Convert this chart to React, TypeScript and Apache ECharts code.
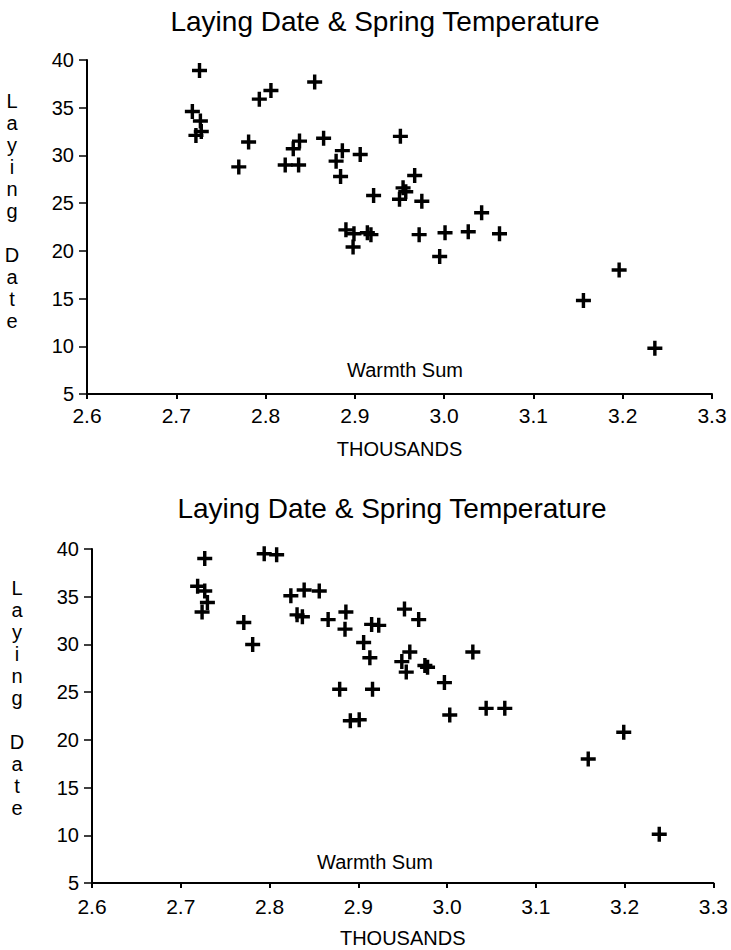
import React, { useEffect, useRef } from "react";
import * as echarts from "echarts";

// Top chart data (warmth sum in thousands, laying date)
const topWarmth = [
  2.726, 2.793, 2.806, 2.855, 2.718, 2.727, 2.722, 2.728, 2.781, 2.770,
  2.838, 2.831, 2.822, 2.837, 2.865, 2.886, 2.879, 2.884, 2.906, 2.951,
  2.967, 2.921, 2.950, 2.954, 2.957, 2.975, 2.890, 2.899, 2.898, 2.914,
  2.918, 2.972, 3.001, 3.027, 3.042, 3.062, 2.995, 3.196, 3.156, 3.236,
];
const topLaying = [
  38.9, 35.9, 36.8, 37.7, 34.6, 33.6, 32.1, 32.5, 31.4, 28.8,
  31.5, 30.7, 29.0, 29.0, 31.8, 30.5, 29.4, 27.8, 30.1, 32.0,
  27.9, 25.8, 25.4, 26.6, 26.2, 25.2, 22.2, 21.8, 20.4, 21.9,
  21.7, 21.7, 21.9, 22.0, 24.0, 21.8, 19.4, 18.0, 14.8, 9.8,
];

// Bottom chart data
const bottomWarmth = [
  2.727, 2.794, 2.808, 2.719, 2.727, 2.730, 2.724, 2.771, 2.781, 2.824,
  2.839, 2.856, 2.831, 2.837, 2.866, 2.886, 2.885, 2.915, 2.923, 2.906,
  2.913, 2.879, 2.916, 2.952, 2.968, 2.958, 2.949, 2.954, 2.975, 2.978,
  2.891, 2.901, 3.029, 2.997, 3.003, 3.044, 3.065, 3.199, 3.159, 3.239,
];
const bottomLaying = [
  39.0, 39.5, 39.4, 36.1, 35.6, 34.4, 33.4, 32.3, 30.0, 35.1,
  35.7, 35.6, 33.1, 32.9, 32.6, 33.4, 31.6, 32.1, 32.0, 30.2,
  28.6, 25.3, 25.3, 33.7, 32.6, 29.2, 28.2, 27.1, 27.8, 27.6,
  22.0, 22.1, 29.2, 26.0, 22.6, 23.3, 23.3, 20.8, 18.0, 10.1,
];

const titleText = "Laying Date & Spring Temperature";
const xName = "THOUSANDS";
const innerLabel = "Warmth Sum";
const yLetters = ["L", "a", "y", "i", "n", "g", "", "D", "a", "t", "e"];

const FONT = "'Liberation Sans', Arial, Helvetica, sans-serif";
const PLUS = "path://M5.4,0h3.2v5.4h5.4v3.2h-5.4v5.4h-3.2v-5.4h-5.4v-3.2h5.4z";

function pairs(xs: number[], ys: number[]) {
  return xs.map((x, i) => [x, ys[i]]);
}

function xAxisCfg(gridIndex: number, labelMargin: number) {
  return {
    type: "value",
    gridIndex,
    min: 2.6,
    max: 3.3,
    interval: 0.1,
    name: xName,
    nameLocation: "middle",
    nameGap: 45,
    nameTextStyle: { color: "#000", fontSize: 20, fontFamily: FONT },
    axisLine: { show: true, onZero: false, lineStyle: { color: "#000", width: 2 } },
    axisTick: { show: true, inside: false, length: 5, lineStyle: { color: "#000", width: 2 } },
    axisLabel: {
      color: "#000",
      fontSize: 21,
      fontFamily: FONT,
      margin: labelMargin,
      formatter: (v: number) => v.toFixed(1),
    },
    splitLine: { show: false },
  };
}

function yAxisCfg(gridIndex: number) {
  return {
    type: "value",
    gridIndex,
    min: 5,
    max: 40,
    interval: 5,
    axisLine: { show: true, onZero: false, lineStyle: { color: "#000", width: 2 } },
    axisTick: { show: true, inside: false, length: 8, lineStyle: { color: "#000", width: 1.5 } },
    axisLabel: {
      color: "#000",
      fontSize: 20,
      fontFamily: FONT,
      margin: 13,
      verticalAlign: "middle",
      padding: [0, 0, 10, 0],
    },
    splitLine: { show: false },
  };
}

export default function App() {
  const ref = useRef<HTMLDivElement>(null);
  useEffect(() => {
    if (!ref.current) return;
    const chart = echarts.init(ref.current, null, { renderer: "svg" });
    const letterText = yLetters.join("\n");
    chart.setOption({
      animation: false,
      backgroundColor: "#fff",
      grid: [
        { left: 87, right: 19, top: 60, height: 334 },
        { left: 92, right: 15, top: 549, height: 334 },
      ],
      xAxis: [xAxisCfg(0, 11), xAxisCfg(1, 13)],
      yAxis: [yAxisCfg(0), yAxisCfg(1)],
      graphic: [
        {
          type: "text",
          x: 385,
          y: 21,
          style: { text: titleText, fill: "#000", font: `28px ${FONT}`, align: "center", verticalAlign: "middle" },
        },
        {
          type: "text",
          x: 392,
          y: 508,
          style: { text: titleText, fill: "#000", font: `28px ${FONT}`, align: "center", verticalAlign: "middle" },
        },
        {
          type: "text",
          x: 405,
          y: 370,
          style: { text: innerLabel, fill: "#000", font: `20px ${FONT}`, align: "center", verticalAlign: "middle" },
        },
        {
          type: "text",
          x: 375,
          y: 862,
          style: { text: innerLabel, fill: "#000", font: `20px ${FONT}`, align: "center", verticalAlign: "middle" },
        },
        {
          type: "text",
          x: 12,
          y: 90,
          style: {
            text: letterText,
            fill: "#000",
            font: `20px ${FONT}`,
            lineHeight: 22,
            align: "center",
            verticalAlign: "top",
          },
        },
        {
          type: "text",
          x: 17,
          y: 577,
          style: {
            text: letterText,
            fill: "#000",
            font: `20px ${FONT}`,
            lineHeight: 22,
            align: "center",
            verticalAlign: "top",
          },
        },
      ],
      series: [
        {
          type: "scatter",
          xAxisIndex: 0,
          yAxisIndex: 0,
          data: pairs(topWarmth, topLaying),
          symbol: PLUS,
          symbolSize: 15,
          itemStyle: { color: "#000", opacity: 1 },
        },
        {
          type: "scatter",
          xAxisIndex: 1,
          yAxisIndex: 1,
          data: pairs(bottomWarmth, bottomLaying),
          symbol: PLUS,
          symbolSize: 15,
          itemStyle: { color: "#000", opacity: 1 },
        },
      ],
    });
    return () => chart.dispose();
  }, []);
  return (
    <div
      ref={ref}
      style={{ position: "absolute", left: 0, top: 0, width: 731, height: 950, background: "#fff" }}
    />
  );
}
